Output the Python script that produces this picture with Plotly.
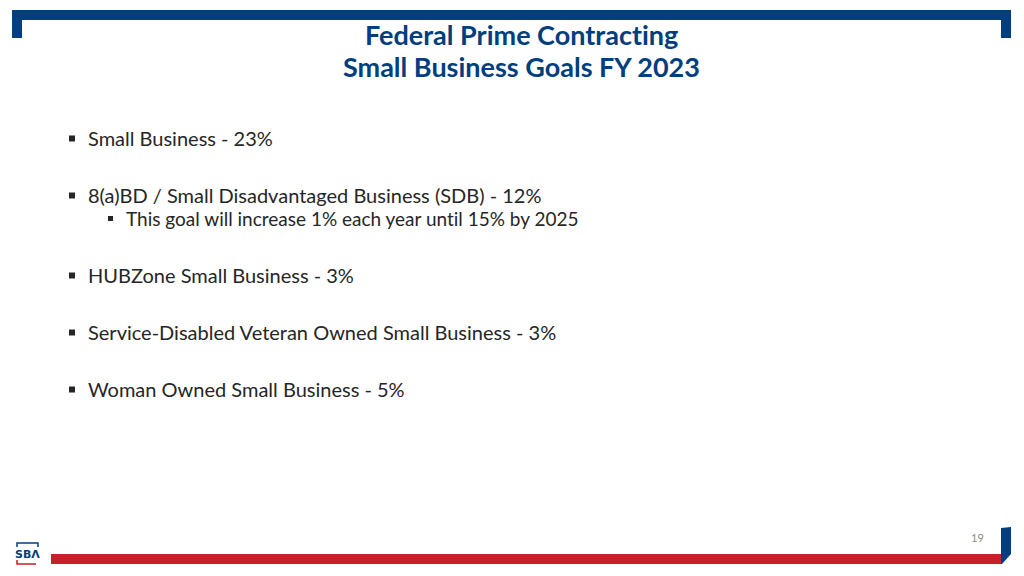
import plotly.graph_objects as go

# Slide content
title_lines = ["Federal Prime Contracting", "Small Business Goals FY 2023"]
bullet_texts = [
    "Small Business - 23%",
    "8(a)BD / Small Disadvantaged Business (SDB) - 12%",
    "This goal will increase 1% each year until 15% by 2025",
    "HUBZone Small Business - 3%",
    "Service-Disabled Veteran Owned Small Business - 3%",
    "Woman Owned Small Business - 5%",
]
bullet_levels = [0, 0, 1, 0, 0, 0]
page_number = "19"

W, H = 1024, 576
OFF = 8  # compensate for page body margin
BLUE = "#003E7E"
RED = "#C8202A"
TEXT = "#262626"
FONT = "Lato"

bullet_y = [138, 195, 218, 275, 332, 389]


def no_lig(s):
    # prevent font ligatures (e.g. "ti") that the original typeface doesn't use
    return s.replace("ti", "t\u200ci").replace("fi", "f\u200ci")


fig = go.Figure()
# invisible trace to set up axes
fig.add_trace(go.Scatter(x=[0, W], y=[0, H], mode="markers",
                         marker=dict(opacity=0), hoverinfo="skip", showlegend=False))

shapes = []
def rect(x0, y0, x1, y1, color):
    shapes.append(dict(type="rect", xref="x", yref="y", x0=x0, y0=y0, x1=x1, y1=y1,
                       fillcolor=color, line=dict(width=0), layer="above"))

# top bracket
rect(12, 10, 1011, 20, BLUE)
rect(12, 10, 22, 38, BLUE)
rect(1001, 10, 1011, 38, BLUE)

# bottom red bar
rect(51, 554, 1001, 564, RED)
# bottom-right blue piece
shapes.append(dict(type="path", xref="x", yref="y",
                   path="M 1001 528 L 1011 527 L 1011 554 L 1002 564 L 1001 564 Z",
                   fillcolor=BLUE, line=dict(width=0), layer="above"))

# SBA logo bits
shapes.append(dict(type="path", xref="x", yref="y",
                   path="M 17 547 L 17 543 L 38 543 L 38 547",
                   line=dict(color=BLUE, width=1.5), layer="above"))
shapes.append(dict(type="path", xref="x", yref="y",
                   path="M 17 560 L 17 564 L 36 564",
                   line=dict(color=RED, width=1.5), layer="above"))

annotations = []
# title
for i, line in enumerate(title_lines):
    annotations.append(dict(x=521, y=34 + i * 32, xref="x", yref="y", text="<b>" + no_lig(line) + "</b>",
                            showarrow=False, xanchor="center", yanchor="middle",
                            font=dict(family=FONT, size=27, color=BLUE)))

# bullets
for txt, lvl, y in zip(bullet_texts, bullet_levels, bullet_y):
    if lvl == 0:
        bx, tx, size, sq = 72, 86, 20, 6
    else:
        bx, tx, size, sq = 110.5, 124, 19, 5
    rect(bx - sq / 2, y - sq / 2 + 0.5, bx + sq / 2, y + sq / 2 + 0.5, TEXT)
    annotations.append(dict(x=tx, y=y, xref="x", yref="y", text=no_lig(txt), showarrow=False,
                            xanchor="left", yanchor="middle",
                            font=dict(family=FONT, size=size, color=TEXT)))

# page number
annotations.append(dict(x=977, y=537, xref="x", yref="y", text=page_number, showarrow=False,
                        xanchor="center", yanchor="middle",
                        font=dict(family=FONT, size=11, color="#8C8C8C")))
# logo text
annotations.append(dict(x=27, y=554, xref="x", yref="y", text="<b>SBΛ</b>", showarrow=False,
                        xanchor="center", yanchor="middle",
                        font=dict(family="DejaVu Sans", size=11, color=BLUE)))

fig.update_layout(
    width=W, height=H,
    margin=dict(l=0, r=0, t=0, b=0),
    paper_bgcolor="white", plot_bgcolor="white",
    xaxis=dict(range=[OFF, W + OFF], visible=False, fixedrange=True),
    yaxis=dict(range=[H + OFF, OFF], visible=False, fixedrange=True),
    shapes=shapes, annotations=annotations, showlegend=False,
)

fig.write_html("out.html", config={"displayModeBar": False})
